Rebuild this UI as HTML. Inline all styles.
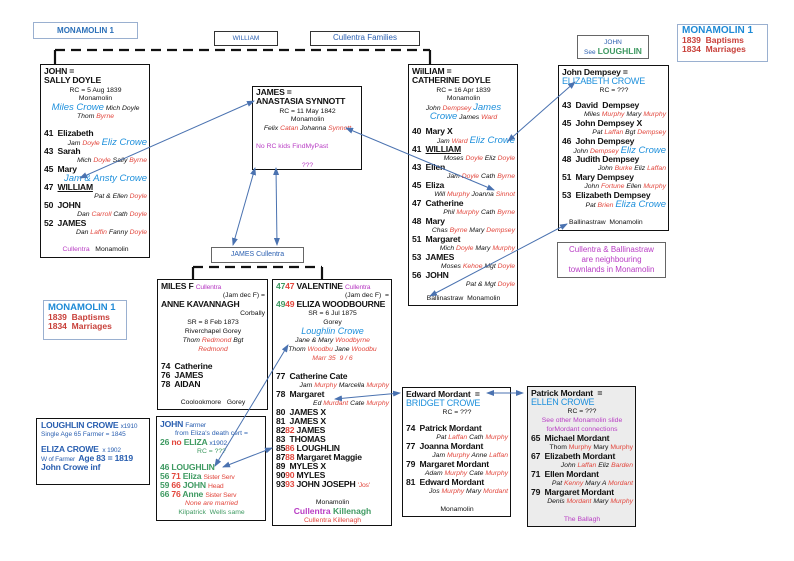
<!DOCTYPE html>
<html><head><meta charset="utf-8"><style>
*{margin:0;padding:0;box-sizing:border-box}
body{width:794px;height:561px;background:#fff;position:relative;overflow:hidden;font-family:"Liberation Sans",Arial,sans-serif;color:#111}
.b{position:absolute;border:1.3px solid #111;background:#fff}
.lb{position:absolute;border:1.3px solid #9ab0d0;background:#fff}
.n{font-weight:bold;font-size:8.6px;line-height:9px;height:9px;white-space:nowrap;letter-spacing:-0.2px}
.s{font-style:italic;font-size:6.8px;line-height:9px;height:9px;text-align:right;white-space:nowrap}
.c{font-size:6.8px;line-height:9px;height:9px;text-align:center;white-space:nowrap}
.sp{height:8px}
.r{color:#e2463c}.bl{color:#1e90dc}.p{color:#b83cc4}.g{color:#3f9a62}.db{color:#2a5fb0}
.big{font-size:9.5px}
.lab{position:absolute;font-size:7px;text-align:center;line-height:13px;border:1.3px solid #333;background:#fff}
</style></head><body>
<svg width="794" height="561" style="position:absolute;left:0;top:0">
<g stroke="#111" stroke-width="2.2" fill="none">
<path d="M55,50H430" stroke-dasharray="10,6"/>
<path d="M55,50V64M430,50V64"/>
<path d="M193,267H322" stroke-dasharray="10,6"/>
<path d="M193,267V279M322,267V279"/>
</g>
</svg>

<div class="lb" style="left:33px;top:22px;width:105px;height:17px;font-weight:bold;font-size:8px;color:#2a6fb8;text-align:center;line-height:15px">MONAMOLIN 1</div>
<div class="lab db" style="left:214px;top:31px;width:64px;height:15px;font-size:6.5px">WILLIAM</div>
<div class="lab db" style="left:310px;top:31px;width:110px;height:15px;font-size:8px;line-height:12px">Cullentra Families</div>

<div class="b" style="left:40px;top:64px;width:110px;height:194px;padding:2px 2px 0 3px">
<div class="n">JOHN =</div><div class="n">SALLY DOYLE</div>
<div class="c" style="padding-top:1px">RC = 5 Aug 1839</div><div class="c">Monamolin</div>
<div class="c" style="font-style:italic"><span class="bl big">Miles Crowe</span> Mich Doyle</div>
<div class="c" style="font-style:italic">Thom <span class="r">Byrne</span></div>
<div class="sp"></div>
<div class="n">41&nbsp; Elizabeth</div><div class="s">Jam <span class="r">Doyle</span> <span class="bl big">Eliz Crowe</span></div>
<div class="n">43&nbsp; Sarah</div><div class="s">Mich <span class="r">Doyle</span> Sally <span class="r">Byrne</span></div>
<div class="n">45&nbsp; Mary</div><div class="s bl big">Jam &amp; Ansty Crowe</div>
<div class="n">47&nbsp; <u>WILLIAM</u></div><div class="s">Pat &amp; Ellen <span class="r">Doyle</span></div>
<div class="n">50&nbsp; JOHN</div><div class="s">Dan <span class="r">Carroll</span> Cath <span class="r">Doyle</span></div>
<div class="n">52&nbsp; JAMES</div><div class="s">Dan <span class="r">Laffin</span> Fanny <span class="r">Doyle</span></div>
<div class="sp"></div><div class="c"><span class="p">Cullentra</span>&nbsp;&nbsp; Monamolin</div>
</div>

<div class="b" style="left:252px;top:86px;width:110px;height:84px;padding:1px 2px 0 3px">
<div class="n">JAMES =</div><div class="n">ANASTASIA SYNNOTT</div>
<div class="c" style="padding-top:1px">RC = 11 May 1842</div><div class="c">Monamolin</div>
<div class="c" style="font-style:italic">Felix <span class="r">Catan</span> Johanna <span class="r">Synnott</span></div>
<div class="sp" style="height:9px"></div>
<div class="c p" style="text-align:left">No RC kids FindMyPast</div>
<div class="sp" style="height:10px"></div><div class="c p">???</div>
</div>

<div class="b" style="left:408px;top:64px;width:110px;height:242px;padding:2px 2px 0 3px">
<div class="n">WilLIAM =</div><div class="n">CATHERINE DOYLE</div>
<div class="c" style="padding-top:1px">RC = 16 Apr 1839</div><div class="c">Monamolin</div>
<div class="c" style="font-style:italic">John <span class="r">Dempsey</span> <span class="bl big">James</span></div>
<div class="c" style="font-style:italic"><span class="bl big">Crowe</span> James <span class="r">Ward</span></div>
<div class="sp" style="height:6px"></div>
<div class="n">40&nbsp; Mary X</div><div class="s">Jam <span class="r">Ward</span> <span class="bl big">Eliz Crowe</span></div>
<div class="n">41&nbsp; <u>WILLIAM</u></div><div class="s">Moses <span class="r">Doyle</span> Eliz <span class="r">Doyle</span></div>
<div class="n">43&nbsp; Ellen</div><div class="s">Jam <span class="r">Doyle</span> Cath <span class="r">Byrne</span></div>
<div class="n">45&nbsp; Eliza</div><div class="s">Will <span class="r">Murphy</span> Joanna <span class="r">Sinnot</span></div>
<div class="n">47&nbsp; Catherine</div><div class="s">Phil <span class="r">Murphy</span> Cath <span class="r">Byrne</span></div>
<div class="n">48&nbsp; Mary</div><div class="s">Chas <span class="r">Byrne</span> Mary <span class="r">Dempsey</span></div>
<div class="n">51&nbsp; Margaret</div><div class="s">Mich <span class="r">Doyle</span> Mary <span class="r">Murphy</span></div>
<div class="n">53&nbsp; JAMES</div><div class="s">Moses <span class="r">Kehoe</span> Mgt <span class="r">Doyle</span></div>
<div class="n">56&nbsp; JOHN</div><div class="s">Pat &amp; Mgt <span class="r">Doyle</span></div>
<div class="sp" style="height:5px"></div><div class="c">Ballinastraw&nbsp; Monamolin</div>
</div>

<div class="lab" style="left:577px;top:35px;width:72px;height:24px;line-height:8px;padding-top:3px;border-color:#666"><span class="db" style="font-size:6.5px">JOHN</span><br><span class="db" style="font-size:6.5px">See</span> <span class="g" style="font-size:8.5px;font-weight:bold">LOUGHLIN</span></div>
<div class="lb" style="left:677px;top:24px;width:91px;height:38px;padding:1px 0 0 4px;font-weight:bold;line-height:9.5px">
<div style="color:#1e8ad6;font-size:10px">MONAMOLIN 1</div>
<div style="color:#c8403a;font-size:8.5px">1839&nbsp; Baptisms</div>
<div style="color:#c8403a;font-size:8.5px">1834&nbsp; Marriages</div>
</div>

<div class="b" style="left:558px;top:65px;width:111px;height:166px;padding:2px 2px 0 3px">
<div class="n">John Dempsey =</div><div class="n bl" style="font-weight:normal;font-size:9px">ELIZABETH CROWE</div>
<div class="c">RC = ???</div><div class="sp" style="height:6px"></div>
<div class="n">43&nbsp; David&nbsp; Dempsey</div><div class="s">Miles <span class="r">Murphy</span> Mary <span class="r">Murphy</span></div>
<div class="n">45&nbsp; John Dempsey X</div><div class="s">Pat <span class="r">Laffan</span> Bgt <span class="r">Dempsey</span></div>
<div class="n">46&nbsp; John Dempsey</div><div class="s">John <span class="r">Dempsey</span> <span class="bl big">Eliz Crowe</span></div>
<div class="n">48&nbsp; Judith Dempsey</div><div class="s">John <span class="r">Burke</span> Eliz <span class="r">Laffan</span></div>
<div class="n">51&nbsp; Mary Dempsey</div><div class="s">John <span class="r">Fortune</span> Ellen <span class="r">Murphy</span></div>
<div class="n">53&nbsp; Elizabeth Dempsey</div><div class="s">Pat <span class="r">Brien</span> <span class="bl big">Eliza Crowe</span></div>
<div class="sp" style="height:9px"></div><div class="c" style="text-align:left;padding-left:7px">Ballinastraw&nbsp; Monamolin</div>
</div>

<div class="lab p" style="left:557px;top:242px;width:109px;height:36px;line-height:10px;padding-top:2px;font-size:8px;border-color:#666">Cullentra &amp; Ballinastraw<br>are neighbouring<br>townlands in Monamolin</div>

<div class="lab db" style="left:211px;top:247px;width:93px;height:16px;font-size:7px;border-color:#666">JAMES Cullentra</div>

<div class="lb" style="left:43px;top:300px;width:84px;height:40px;padding:2px 0 0 4px;font-weight:bold;line-height:9.5px">
<div style="color:#1e8ad6;font-size:9.5px">MONAMOLIN 1</div>
<div style="color:#c8403a;font-size:8.5px">1839&nbsp; Baptisms</div>
<div style="color:#c8403a;font-size:8.5px">1834&nbsp; Marriages</div>
</div>

<div class="b" style="left:157px;top:279px;width:111px;height:131px;padding:2px 2px 0 3px">
<div class="n">MILES F <span class="p" style="font-weight:normal;font-size:6.8px">Cullentra</span></div>
<div class="s" style="font-style:normal">(Jam dec F) =</div>
<div class="n">ANNE KAVANNAGH</div>
<div class="s" style="font-style:normal">Corbally</div>
<div class="c">SR = 8 Feb 1873</div><div class="c">Riverchapel Gorey</div>
<div class="c" style="font-style:italic">Thom <span class="r">Redmond</span> Bgt</div>
<div class="c r" style="font-style:italic">Redmond</div>
<div class="sp"></div>
<div class="n">74&nbsp; Catherine</div><div class="n">76&nbsp; JAMES</div><div class="n">78&nbsp; AIDAN</div>
<div class="sp" style="height:9px"></div><div class="c">Coolookmore&nbsp;&nbsp; Gorey</div>
</div>

<div class="b" style="left:272px;top:279px;width:120px;height:247px;padding:2px 2px 0 3px">
<div class="n"><span class="g">47</span><span class="r">47</span> VALENTINE <span class="p" style="font-weight:normal;font-size:6.8px">Cullentra</span></div>
<div class="s" style="font-style:normal">(Jam dec F)&nbsp; =</div>
<div class="n"><span class="g">49</span><span class="r">49</span> ELIZA WOODBOURNE</div>
<div class="c">SR = 6 Jul 1875</div><div class="c">Gorey</div>
<div class="c bl" style="font-style:italic;font-size:9px">Loughlin Crowe</div>
<div class="c" style="font-style:italic">Jane &amp; Mary <span class="r">Woodbyrne</span></div>
<div class="c" style="font-style:italic">Thom <span class="r">Woodbu</span> Jane <span class="r">Woodbu</span></div>
<div class="c r" style="font-style:italic">Marr 35&nbsp; 9 / 6</div>
<div class="sp" style="height:9px"></div>
<div class="n">77&nbsp; Catherine Cate</div><div class="s">Jam <span class="r">Murphy</span> Marcella <span class="r">Murphy</span></div>
<div class="n">78&nbsp; Margaret</div><div class="s">Ed <span class="r">Murdant</span> Cate <span class="r">Murphy</span></div>
<div class="n">80&nbsp; JAMES X</div><div class="n">81&nbsp; JAMES X</div>
<div class="n">82<span class="r">82</span> JAMES</div><div class="n">83&nbsp; THOMAS</div>
<div class="n">85<span class="r">86</span> LOUGHLIN</div><div class="n">87<span class="r">88</span> Margaret Maggie</div>
<div class="n">89&nbsp; MYLES X</div><div class="n">90<span class="r">90</span> MYLES</div>
<div class="n">93<span class="r">93</span> JOHN JOSEPH <span class="r" style="font-weight:normal;font-size:6.8px">'Jos'</span></div>
<div class="sp" style="height:9px"></div>
<div class="c">Monamolin</div>
<div class="c" style="font-weight:bold;font-size:8.5px"><span class="p">Cullentra</span> <span class="g">Killenagh</span></div>
<div class="c r">Cullentra Killenagh</div>
</div>

<div class="b" style="left:36px;top:418px;width:114px;height:67px;padding:2px 2px 0 4px;color:#2a5fb0">
<div class="n">LOUGHLIN CROWE <span style="font-weight:normal;font-size:6.5px">x1910</span></div>
<div style="font-size:6.5px;line-height:9px">Single Age 65 Farmer = 1845</div>
<div class="sp" style="height:6px"></div>
<div class="n">ELIZA CROWE <span style="font-weight:normal;font-size:6.5px">&nbsp;x 1902</span></div>
<div class="n"><span style="font-weight:normal;font-size:6.5px">W of Farmer&nbsp;</span> Age 83 = 1819</div>
<div class="n">John Crowe inf</div>
</div>

<div class="b" style="left:156px;top:416px;width:110px;height:105px;padding:3px 2px 0 3px">
<div class="n db">JOHN <span style="font-weight:normal;font-size:6.8px">Farmer</span></div>
<div class="c db">from Eliza's death cert =</div>
<div class="n"><span class="g">26</span> <span class="r">no</span> <span class="g">ELIZA</span> <span class="db" style="font-weight:normal;font-size:6.8px">x1902</span></div>
<div class="c g">RC = ???</div>
<div class="sp" style="height:7px"></div>
<div class="n g">46 LOUGHLIN</div>
<div class="n"><span class="g">56</span> <span class="r">71</span> <span class="g">Eliza</span> <span class="r" style="font-weight:normal;font-size:6.8px">Sister Serv</span></div>
<div class="n"><span class="g">59</span> <span class="r">66</span> <span class="g">JOHN</span> <span class="r" style="font-weight:normal;font-size:6.8px">Head</span></div>
<div class="n"><span class="g">66</span> <span class="r">76</span> <span class="g">Anne</span> <span class="r" style="font-weight:normal;font-size:6.8px">Sister Serv</span></div>
<div class="c r" style="font-style:italic">None are married</div>
<div class="c g">Kilpatrick&nbsp; Wells same</div>
</div>

<div class="b" style="left:402px;top:387px;width:109px;height:130px;padding:2px 2px 0 3px">
<div class="n">Edward Mordant&nbsp; =</div><div class="n bl" style="font-weight:normal;font-size:9px">BRIDGET CROWE</div>
<div class="c">RC = ???</div><div class="sp" style="height:7px"></div>
<div class="n">74&nbsp; Patrick Mordant</div><div class="s">Pat <span class="r">Laffan</span> Cath <span class="r">Murphy</span></div>
<div class="n">77&nbsp; Joanna Mordant</div><div class="s">Jam <span class="r">Murphy</span> Anne <span class="r">Laffan</span></div>
<div class="n">79&nbsp; Margaret Mordant</div><div class="s">Adam <span class="r">Murphy</span> Cate <span class="r">Murphy</span></div>
<div class="n">81&nbsp; Edward Mordant</div><div class="s">Jos <span class="r">Murphy</span> Mary <span class="r">Mordant</span></div>
<div class="sp" style="height:9px"></div><div class="c">Monamolin</div>
</div>

<div class="b" style="left:527px;top:386px;width:109px;height:141px;padding:2px 2px 0 3px;background:#ececec">
<div class="n">Patrick Mordant&nbsp; =</div><div class="n bl" style="font-weight:normal;font-size:9px">ELLEN CROWE</div>
<div class="c">RC = ???</div>
<div class="c p">See other Monamolin slide</div><div class="c p">forMordant connections</div>
<div class="n">65&nbsp; Michael Mordant</div><div class="s" style="font-style:normal">Thom <span class="r">Murphy</span> Mary <span class="r">Murphy</span></div>
<div class="n">67&nbsp; Elizabeth Mordant</div><div class="s">John <span class="r">Laffan</span> Eliz <span class="r">Barden</span></div>
<div class="n">71&nbsp; Ellen Mordant</div><div class="s">Pat <span class="r">Kenny</span> Mary A <span class="r">Mordant</span></div>
<div class="n">79&nbsp; Margaret Mordant</div><div class="s">Denis <span class="r">Mordant</span> Mary <span class="r">Murphy</span></div>
<div class="sp" style="height:9px"></div><div class="c p">The Ballagh</div>
</div>

<svg width="794" height="561" style="position:absolute;left:0;top:0;z-index:5">
<defs><marker id="a" markerWidth="8" markerHeight="6" refX="7" refY="3" orient="auto-start-reverse" markerUnits="userSpaceOnUse"><path d="M0,0L8,3L0,6z" fill="#4a72b0"/></marker></defs>
<g stroke="#4a72b0" stroke-width="1" fill="none" marker-start="url(#a)" marker-end="url(#a)">
<path d="M80,178L254,101"/>
<path d="M255,168L233,245"/>
<path d="M276,168L277,245"/>
<path d="M346,128L494,190"/>
<path d="M575,82L508,141"/>
<path d="M430,296L567,224"/>
<path d="M288,345L215,466"/>
<path d="M272,448L223,467"/>
<path d="M335,399L400,393"/>
<path d="M487,393L523,393"/>
</g>
</svg>
</body></html>
